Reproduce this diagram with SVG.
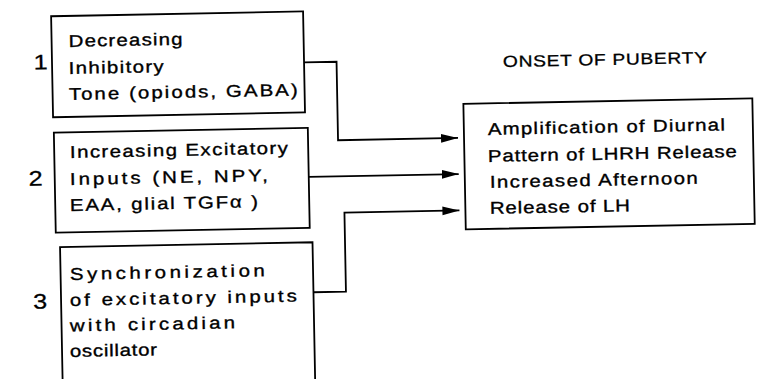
<svg xmlns="http://www.w3.org/2000/svg" width="757" height="379" viewBox="0 0 757 379">
  <style>
    .box { fill: #fff; stroke: #000; stroke-width: 1.8; }
    .edge { fill: none; stroke: #000; stroke-width: 1.8; }
    .t { font-family: "Liberation Sans", Arial, Helvetica, sans-serif; font-size: 17px; fill: #000; stroke: #000; stroke-width: 0.35; }
    .title { font-family: "Liberation Sans", Arial, Helvetica, sans-serif; font-size: 16px; fill: #000; stroke: #000; stroke-width: 0.3; }
    .num { font-family: "Liberation Sans", Arial, Helvetica, sans-serif; font-size: 21px; fill: #000; stroke: #000; stroke-width: 0.3; }
  </style>
  <defs>
    <marker id="arrow" markerUnits="userSpaceOnUse" markerWidth="18" markerHeight="10" refX="17" refY="5" orient="auto">
      <path d="M0,0.6 L17,5 L0,9.4 z" fill="#000"/>
    </marker>
  </defs>
  <rect width="757" height="379" fill="#fff"/>
  <g transform="rotate(-1.1 378.5 189.5)">
    <g id="connectors">
      <path class="edge" d="M306.5,61 H339 V139.5 H459" marker-end="url(#arrow)"/>
      <path class="edge" d="M309,175.6 H459" marker-end="url(#arrow)"/>
      <path class="edge" d="M311.5,291 H344 V212 H459" marker-end="url(#arrow)"/>
    </g>

    <g id="label-1"><text class="num" transform="translate(36 63) scale(1.2 1)">1</text></g>
    <g id="label-2"><text class="num" transform="translate(29 179) scale(1.2 1)">2</text></g>
    <g id="label-3"><text class="num" transform="translate(31 302) scale(1.2 1)">3</text></g>

    <g id="node-inhibitory">
      <rect class="box" x="54.5" y="10" width="252" height="101"/>
      <text class="t" transform="translate(71.5 41) scale(1.2 1)" textLength="95" lengthAdjust="spacing">Decreasing</text>
      <text class="t" transform="translate(71 68) scale(1.2 1)" textLength="79.2" lengthAdjust="spacing">Inhibitory</text>
      <text class="t" transform="translate(70.7 94) scale(1.2 1)" textLength="190.8" lengthAdjust="spacing">Tone (opiods, GABA)</text>
    </g>

    <g id="node-excitatory">
      <rect class="box" x="55" y="126.5" width="254" height="100"/>
      <text class="t" transform="translate(70.7 152) scale(1.2 1)" textLength="181.7" lengthAdjust="spacing">Increasing Excitatory</text>
      <text class="t" transform="translate(70.2 179) scale(1.2 1)" textLength="165" lengthAdjust="spacing">Inputs  (NE,  NPY,</text>
      <text class="t" transform="translate(69.6 205) scale(1.2 1)" textLength="156.7" lengthAdjust="spacing">EAA, glial TGFα )</text>
    </g>

    <g id="node-synchronization">
      <path class="box" d="M59,430 V241 H311.5 V430"/>
      <text class="t" transform="translate(68.3 274) scale(1.2 1)" textLength="162.5" lengthAdjust="spacing">Synchronization</text>
      <text class="t" transform="translate(67.8 300) scale(1.2 1)" textLength="189.2" lengthAdjust="spacing">of excitatory inputs</text>
      <text class="t" transform="translate(67.4 325.5) scale(1.2 1)" textLength="137.5" lengthAdjust="spacing">with circadian</text>
      <text class="t" transform="translate(66.9 351) scale(1.2 1)" textLength="72.5" lengthAdjust="spacing">oscillator</text>
    </g>

    <g id="node-title">
      <text class="title" transform="translate(505.4 69.4) scale(1.2 1)" textLength="170" lengthAdjust="spacing">ONSET OF PUBERTY</text>
    </g>

    <g id="node-puberty">
      <rect class="box" x="465" y="105.5" width="289" height="125.5"/>
      <text class="t" transform="translate(489 137) scale(1.2 1)" textLength="197.5" lengthAdjust="spacing">Amplification of Diurnal</text>
      <text class="t" transform="translate(488.5 164) scale(1.2 1)" textLength="207.5" lengthAdjust="spacing">Pattern of LHRH Release</text>
      <text class="t" transform="translate(490 190) scale(1.2 1)" textLength="173.3" lengthAdjust="spacing">Increased  Afternoon</text>
      <text class="t" transform="translate(489.5 216) scale(1.2 1)" textLength="116.7" lengthAdjust="spacing">Release of LH</text>
    </g>
  </g>
</svg>
